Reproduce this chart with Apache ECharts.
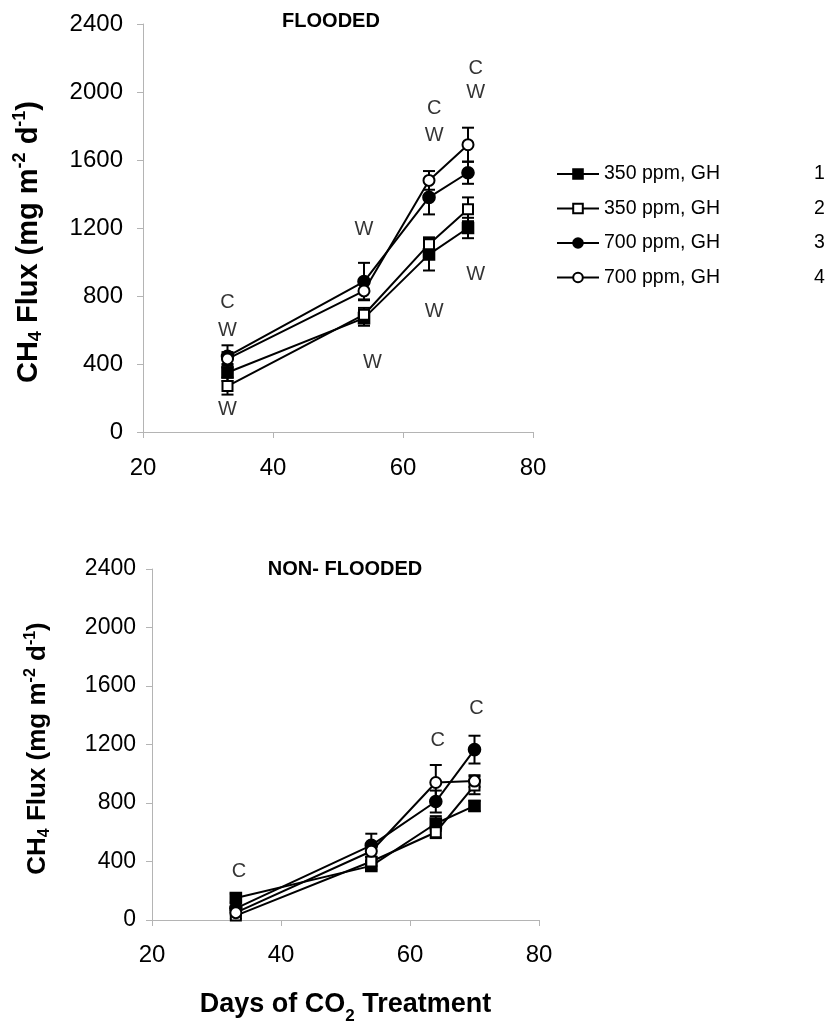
<!DOCTYPE html>
<html>
<head>
<meta charset="utf-8">
<script src="https://cdn.jsdelivr.net/npm/echarts@6/dist/echarts.min.js"></script>
<style>html,body{margin:0;padding:0;background:#fff}#c{width:833px;height:1026px}</style>
</head>
<body>
<div id="c"></div>
<script>
// ---- data ----
const days = [33, 54, 64, 70];
const seriesNames = ['350 ppm, GH 1', '350 ppm, GH 2', '700 ppm, GH 3', '700 ppm, GH 4'];

// FLOODED
const flooded350a = [350, 670, 1045, 1200];
const flooded350b = [270, 690, 1105, 1310];
const flooded700a = [445, 885, 1380, 1525];
const flooded700b = [430, 830, 1480, 1690];
const floodedErr350a = [50, 45, 95, 60];
const floodedErr350b = [50, 40, 40, 70];
const floodedErr700a = [65, 110, 100, 65];
const floodedErr700b = [40, 50, 55, 100];

// NON-FLOODED
const nonFlooded350a = [150, 370, 660, 780];
const nonFlooded350b = [30, 400, 600, 920];
const nonFlooded700a = [80, 510, 810, 1165];
const nonFlooded700b = [50, 470, 940, 950];
const nonFloodedErr350a = [30, 25, 50, 35];
const nonFloodedErr350b = [20, 30, 40, 60];
const nonFloodedErr700a = [20, 80, 75, 95];
const nonFloodedErr700b = [20, 40, 120, 40];

// significance letters [day, value, letter]
const floodedLetters = [
  [33, 760, 'C'], [33, 595, 'W'], [33, 130, 'W'],
  [54, 1190, 'W'], [55.3, 410, 'W'],
  [64.8, 1905, 'C'], [64.8, 1745, 'W'], [64.8, 710, 'W'],
  [71.2, 2140, 'C'], [71.2, 2000, 'W'], [71.2, 925, 'W']
];
const nonFloodedLetters = [
  [33.5, 330, 'C'], [64.3, 1230, 'C'], [70.3, 1445, 'C']
];

const yTicks = [0, 400, 800, 1200, 1600, 2000, 2400];
const xTicks = [20, 40, 60, 80];

// ---- chart ----
const FONT = '"Liberation Sans", Arial, sans-serif';
const symbols = ['rect', 'emptyRect', 'circle', 'emptyCircle'];
const symbolSizes = [11, 10, 12, 11];

function pairs(vals) { return days.map((d, i) => [d, vals[i]]); }
function errPairs(vals, errs) { return days.map((d, i) => [d, vals[i] - errs[i], vals[i] + errs[i]]); }

const chart = echarts.init(document.getElementById('c'), null, {renderer: 'canvas'});

function xAxisDef(gridIndex, withName, margin, size) {
  const a = {
    type: 'value', gridIndex, min: xTicks[0], max: xTicks[xTicks.length - 1], interval: 20,
    axisLine: {show: true, onZero: false, lineStyle: {color: '#b4b4b4', width: 1}},
    axisTick: {show: true, length: 6, lineStyle: {color: '#b4b4b4'}},
    axisLabel: {color: '#000', fontSize: size, fontFamily: FONT, margin: margin},
    splitLine: {show: false}
  };
  if (withName) {
    a.name = '{b|Days of CO}{s|2}{b| Treatment}';
    a.nameLocation = 'middle';
    a.nameGap = 68;
    a.nameTextStyle = {
      rich: {
        b: {fontSize: 27, fontWeight: 'bold', fontFamily: FONT, color: '#000', lineHeight: 30, verticalAlign: 'bottom'},
        s: {fontSize: 17, fontWeight: 'bold', fontFamily: FONT, color: '#000', lineHeight: 30, verticalAlign: 'bottom', padding: [0, 0, -7, 0]}
      }
    };
  }
  return a;
}
function yAxisDef(gridIndex, margin, size, nameSize, nameGap, shiftPad) {
  const sub = Math.round(nameSize * 0.62);
  const lh = nameSize + 6;
  return {
    type: 'value', gridIndex, min: yTicks[0], max: yTicks[yTicks.length - 1], interval: 400,
    axisLine: {show: true, lineStyle: {color: '#b4b4b4', width: 1}},
    axisTick: {show: true, length: 6, lineStyle: {color: '#b4b4b4'}},
    axisLabel: {color: '#000', fontSize: size, fontFamily: FONT, margin: margin, formatter: v => String(v)},
    splitLine: {show: false},
    name: '{b|CH}{s|4}{b| Flux (mg m}{p|-2}{b| d}{p|-1}{e|)}',
    nameLocation: 'middle', nameRotate: 90, nameGap: nameGap,
    nameTextStyle: {
      rich: {
        b: {fontSize: nameSize, fontWeight: 'bold', fontFamily: FONT, color: '#000', lineHeight: lh},
        e: {fontSize: nameSize, fontWeight: 'bold', fontFamily: FONT, color: '#000', lineHeight: lh, padding: [0, shiftPad, 0, 0]},
        s: {fontSize: sub, fontWeight: 'bold', fontFamily: FONT, color: '#000', lineHeight: lh, padding: [Math.round(nameSize * 0.5), 0, 0, 0]},
        p: {fontSize: sub, fontWeight: 'bold', fontFamily: FONT, color: '#000', lineHeight: lh, padding: [0, 0, Math.round(nameSize * 0.55), 0]}
      }
    }
  };
}

function lineSeries(name, vals, i, gi) {
  return {
    type: 'line', name, xAxisIndex: gi, yAxisIndex: gi,
    data: pairs(vals), symbol: symbols[i], symbolSize: symbolSizes[i],
    showAllSymbol: true,
    lineStyle: {color: '#000', width: 2},
    itemStyle: {color: '#000', borderColor: '#000', borderWidth: 1.6},
    emphasis: {disabled: true}, z: 3, animation: false
  };
}
function errSeries(vals, errs, gi) {
  return {
    type: 'custom', xAxisIndex: gi, yAxisIndex: gi, data: errPairs(vals, errs),
    renderItem: function (params, api) {
      const x = api.value(0);
      const lo = api.coord([x, api.value(1)]);
      const hi = api.coord([x, api.value(2)]);
      const hw = 6;
      const st = {stroke: '#000', lineWidth: 2};
      return {type: 'group', children: [
        {type: 'line', shape: {x1: lo[0], y1: lo[1], x2: hi[0], y2: hi[1]}, style: st},
        {type: 'line', shape: {x1: lo[0] - hw, y1: lo[1], x2: lo[0] + hw, y2: lo[1]}, style: st},
        {type: 'line', shape: {x1: hi[0] - hw, y1: hi[1], x2: hi[0] + hw, y2: hi[1]}, style: st}
      ]};
    },
    z: 2, animation: false, silent: true
  };
}
function letterSeries(data, gi) {
  return {
    type: 'scatter', xAxisIndex: gi, yAxisIndex: gi, data, symbolSize: 0,
    label: {show: true, position: 'inside', formatter: p => p.data[2], color: '#000', fontSize: 20, fontFamily: FONT},
    silent: true, animation: false, z: 4
  };
}

const topVals = [flooded350a, flooded350b, flooded700a, flooded700b];
const topErrs = [floodedErr350a, floodedErr350b, floodedErr700a, floodedErr700b];
const botVals = [nonFlooded350a, nonFlooded350b, nonFlooded700a, nonFlooded700b];
const botErrs = [nonFloodedErr350a, nonFloodedErr350b, nonFloodedErr700a, nonFloodedErr700b];

const series = [];
topVals.forEach((v, i) => series.push(errSeries(v, topErrs[i], 0)));
botVals.forEach((v, i) => series.push(errSeries(v, botErrs[i], 1)));
topVals.forEach((v, i) => series.push(lineSeries(seriesNames[i], v, i, 0)));
botVals.forEach((v, i) => series.push(lineSeries(seriesNames[i], v, i, 1)));
series.push(letterSeries(floodedLetters, 0));
series.push(letterSeries(nonFloodedLetters, 1));

chart.setOption({
  backgroundColor: '#fff',
  animation: false,
  title: [
    {text: 'FLOODED', left: 326, top: 6, textAlign: 'center',
     textStyle: {fontSize: 20, fontWeight: 'bold', fontFamily: FONT, color: '#000'}},
    {text: 'NON- FLOODED', left: 340, top: 554, textAlign: 'center',
     textStyle: {fontSize: 20, fontWeight: 'bold', fontFamily: FONT, color: '#000'}}
  ],
  legend: {
    data: seriesNames, orient: 'vertical', left: 551, top: 159,
    itemWidth: 42, itemHeight: 12, itemGap: 14.5,
    inactiveColor: '#000',
    textStyle: {color: '#000', fontFamily: FONT, fontSize: 19,
      rich: {a: {fontSize: 19.5, fontFamily: FONT, color: '#000', width: 210}, b: {fontSize: 19.5, fontFamily: FONT, color: '#000'}}},
    formatter: function (name) { const k = name.lastIndexOf(' '); return '{a|' + name.slice(0, k) + '}{b|' + name.slice(k + 1) + '}'; },
    selectedMode: false
  },
  grid: [
    {left: 143, top: 24, width: 390, height: 408, outerBoundsMode: 'none', containLabel: false},
    {left: 152, top: 569, width: 387, height: 351, outerBoundsMode: 'none', containLabel: false}
  ],
  xAxis: [xAxisDef(0, false, 24, 24), xAxisDef(1, true, 23, 24)],
  yAxis: [yAxisDef(0, 20, 24, 29, 97, 28), yAxisDef(1, 16, 23, 26, 98, 8)],
  series
});
</script>
</body>
</html>
